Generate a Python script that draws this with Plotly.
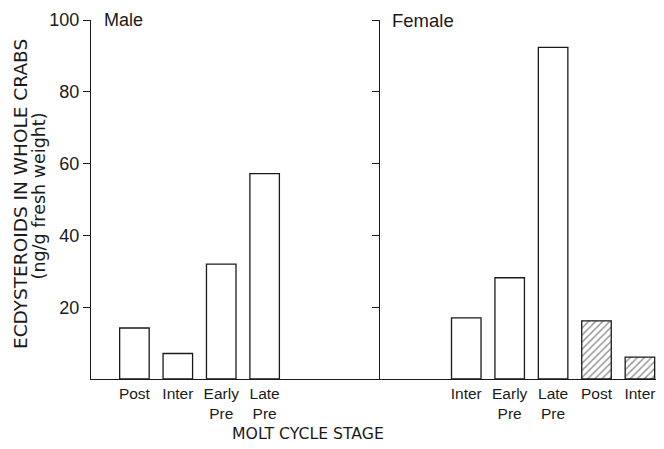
import plotly.graph_objects as go

# data (ng/g fresh weight)
male_stages = ["Post", "Inter", "Early<br>Pre", "Late<br>Pre"]
male_values = [14.2, 7.1, 32.0, 57.2]

female_stages = ["Inter", "Early<br>Pre", "Late<br>Pre", "Post", "Inter"]
female_values = [17.0, 28.2, 92.4, 16.2, 6.1]
female_hatched = [False, False, False, True, True]

y_ticks = [20, 40, 60, 80, 100]

# layout of the slots along the x axis
female_axis_x = 6.645
male_x = [1 + i for i in range(len(male_stages))]
female_x = [female_axis_x + 2 + i for i in range(len(female_stages))]
x_max = 13.2

ink = "#1a1a1a"
font_main = "Liberation Sans, Arial, sans-serif"
font_title = "DejaVu Sans, sans-serif"

fig = go.Figure()

fig.add_trace(
    go.Bar(
        x=male_x,
        y=male_values,
        width=0.68,
        marker=dict(color="white", line=dict(color=ink, width=1.3)),
    )
)

plain = [(x, v) for x, v, h in zip(female_x, female_values, female_hatched) if not h]
hatch = [(x, v) for x, v, h in zip(female_x, female_values, female_hatched) if h]

fig.add_trace(
    go.Bar(
        x=[p[0] for p in plain],
        y=[p[1] for p in plain],
        width=0.68,
        marker=dict(color="white", line=dict(color=ink, width=1.3)),
    )
)
fig.add_trace(
    go.Bar(
        x=[p[0] for p in hatch],
        y=[p[1] for p in hatch],
        width=0.68,
        marker=dict(
            color="white",
            line=dict(color=ink, width=1.3),
            pattern=dict(shape="/", fgcolor="#333", bgcolor="white", size=5, solidity=0.3),
        ),
    )
)

# the page puts the figure 8px in from the top-left corner
fig.update_layout(
    width=656,
    height=441,
    margin=dict(l=83, r=0, t=12, b=70),
    plot_bgcolor="white",
    paper_bgcolor="white",
    showlegend=False,
    barmode="overlay",
    font=dict(family=font_main, color=ink),
    xaxis=dict(
        range=[0, x_max],
        showgrid=False,
        zeroline=False,
        showline=True,
        linecolor=ink,
        linewidth=1.3,
        ticks="",
        tickvals=male_x + female_x,
        ticktext=male_stages + female_stages,
        tickfont=dict(size=15.5, color=ink),
    ),
    yaxis=dict(
        range=[0, 100],
        showgrid=False,
        zeroline=False,
        showline=True,
        linecolor=ink,
        linewidth=1.3,
        ticks="outside",
        ticklen=7,
        tickcolor=ink,
        tickwidth=1.2,
        tickvals=y_ticks,
        tickfont=dict(size=18, color=ink),
    ),
    yaxis2=dict(
        range=[0, 100],
        overlaying="y",
        anchor="free",
        side="left",
        position=female_axis_x / x_max,
        showgrid=False,
        zeroline=False,
        showline=True,
        linecolor=ink,
        linewidth=1.3,
        ticks="outside",
        ticklen=7,
        tickcolor=ink,
        tickwidth=1.2,
        tickvals=y_ticks,
        showticklabels=False,
    ),
)

# an invisible trace so the second axis is drawn
fig.add_trace(go.Scatter(x=[female_axis_x], y=[0], yaxis="y2", mode="markers",
                         marker=dict(opacity=0), hoverinfo="skip"))

fig.add_annotation(text="Male", xref="paper", yref="paper", x=0.019, y=1.0,
                   xanchor="left", yanchor="middle", showarrow=False,
                   font=dict(size=18, color=ink))
fig.add_annotation(text="Female", xref="paper", yref="paper", x=0.522, y=1.0,
                   xanchor="left", yanchor="middle", showarrow=False,
                   font=dict(size=18.5, color=ink))

fig.add_annotation(text="ECDYSTEROIDS IN WHOLE CRABS", xref="paper", yref="paper",
                   x=-0.124, y=0.515, textangle=-90, showarrow=False, borderpad=0,
                   xanchor="center", yanchor="middle",
                   font=dict(family=font_title, size=18.5, color=ink))
fig.add_annotation(text="(ng/g fresh weight)", xref="paper", yref="paper",
                   x=-0.0905, y=0.509, textangle=-90, showarrow=False, borderpad=0,
                   xanchor="center", yanchor="middle",
                   font=dict(family=font_title, size=17.5, color=ink))
fig.add_annotation(text="MOLT CYCLE STAGE", xref="paper", yref="paper",
                   x=0.379, y=-0.152, showarrow=False,
                   xanchor="center", yanchor="middle",
                   font=dict(family=font_title, size=15.7, color=ink))

fig.write_html("out.html")
